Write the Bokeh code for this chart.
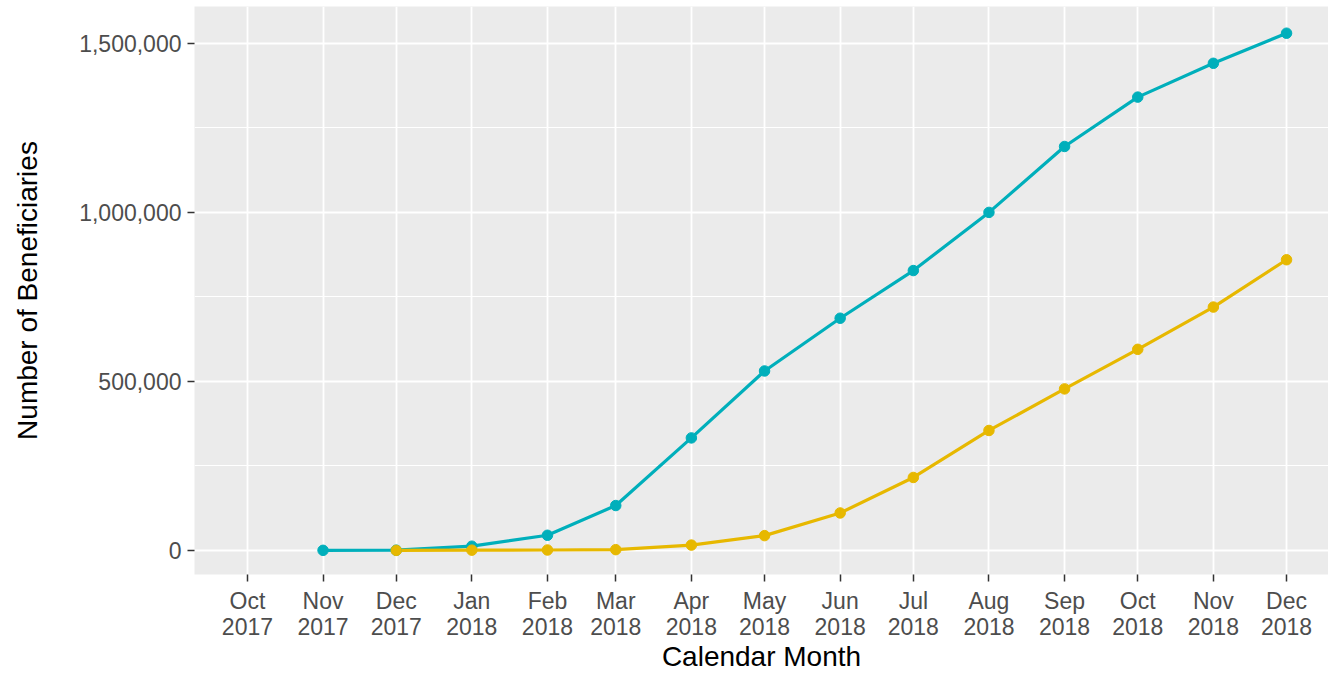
import pandas as pd
from bokeh.plotting import figure
from bokeh.models import Range1d, FixedTicker, NumeralTickFormatter, ColumnDataSource
from bokeh.embed import file_html
from bokeh.resources import INLINE

# ---- data ----
months = ["2017-10-01", "2017-11-01", "2017-12-01", "2018-01-01", "2018-02-01",
          "2018-03-01", "2018-04-01", "2018-05-01", "2018-06-01", "2018-07-01",
          "2018-08-01", "2018-09-01", "2018-10-01", "2018-11-01", "2018-12-01"]
tick_labels = ["Oct\n2017", "Nov\n2017", "Dec\n2017", "Jan\n2018", "Feb\n2018",
               "Mar\n2018", "Apr\n2018", "May\n2018", "Jun\n2018", "Jul\n2018",
               "Aug\n2018", "Sep\n2018", "Oct\n2018", "Nov\n2018", "Dec\n2018"]

teal_months = months[1:]
teal_values = [500, 900, 12700, 45000, 133000, 333000, 531000, 687000,
               828000, 1000000, 1195000, 1341000, 1441000, 1530000]

gold_months = months[2:]
gold_values = [300, 1000, 1500, 2500, 16000, 44000, 111000, 216000,
               355000, 478000, 595000, 720000, 860000]

y_ticks = [0, 500000, 1000000, 1500000]
y_minor = [250000, 750000, 1250000]

TEAL = "#00AFBB"
GOLD = "#E7B800"
FONT = "Liberation Sans"

# ---- figure ----
month_dt = pd.to_datetime(months)
x_start = month_dt[0] - pd.Timedelta(days=21.7)
x_end = month_dt[-1] + pd.Timedelta(days=17.2)

p = figure(width=1328, height=674, output_backend="svg", toolbar_location=None,
           x_axis_type="datetime",
           x_range=Range1d(x_start, x_end),
           y_range=Range1d(-71000, 1609000),
           min_border_left=194, min_border_right=0, min_border_top=6,
           min_border_bottom=99)

p.background_fill_color = "#EBEBEB"
p.border_fill_color = "white"
p.outline_line_color = None

tick_ms = [int(t.value // 10**6) for t in month_dt]
p.xaxis.ticker = FixedTicker(ticks=tick_ms)
p.xaxis.major_label_overrides = {ms: lab for ms, lab in zip(tick_ms, tick_labels)}
p.yaxis.ticker = FixedTicker(ticks=y_ticks, minor_ticks=y_minor)
p.yaxis.formatter = NumeralTickFormatter(format="0,0")

p.xgrid.grid_line_color = "white"
p.xgrid.grid_line_width = 1.8
p.ygrid.grid_line_color = "white"
p.ygrid.grid_line_width = 1.8
p.ygrid.minor_grid_line_color = "white"
p.ygrid.minor_grid_line_width = 1.0

for ax in (p.xaxis[0], p.yaxis[0]):
    ax.axis_line_color = None
    ax.major_tick_line_color = "#333333"
    ax.major_tick_line_width = 1.5
    ax.major_tick_out = 7
    ax.major_tick_in = 0
    ax.minor_tick_line_color = None
    ax.major_label_text_font = FONT
    ax.major_label_text_font_size = "23px"
    ax.major_label_text_color = "#4D4D4D"
    ax.axis_label_text_font = FONT
    ax.axis_label_text_font_size = "28px"
    ax.axis_label_text_font_style = "normal"
    ax.axis_label_text_color = "black"

p.xaxis.axis_label = "Calendar Month"
p.xaxis.major_label_standoff = 6
p.xaxis.major_label_text_line_height = 1.0
p.xaxis.axis_label_text_line_height = 1.0
p.xaxis.axis_label_standoff = -2
p.yaxis.axis_label = "Number of Beneficiaries"
p.yaxis.major_label_standoff = 6
p.yaxis.axis_label_standoff = 33

teal_src = ColumnDataSource(dict(x=pd.to_datetime(teal_months), y=teal_values))
gold_src = ColumnDataSource(dict(x=pd.to_datetime(gold_months), y=gold_values))

p.line("x", "y", source=teal_src, line_color=TEAL, line_width=3.2)
p.line("x", "y", source=gold_src, line_color=GOLD, line_width=3.2)
p.scatter("x", "y", source=teal_src, size=10.5, fill_color=TEAL, line_color=TEAL)
p.scatter("x", "y", source=gold_src, size=10.5, fill_color=GOLD, line_color=GOLD)

open("out.html", "w").write(file_html(p, INLINE))
